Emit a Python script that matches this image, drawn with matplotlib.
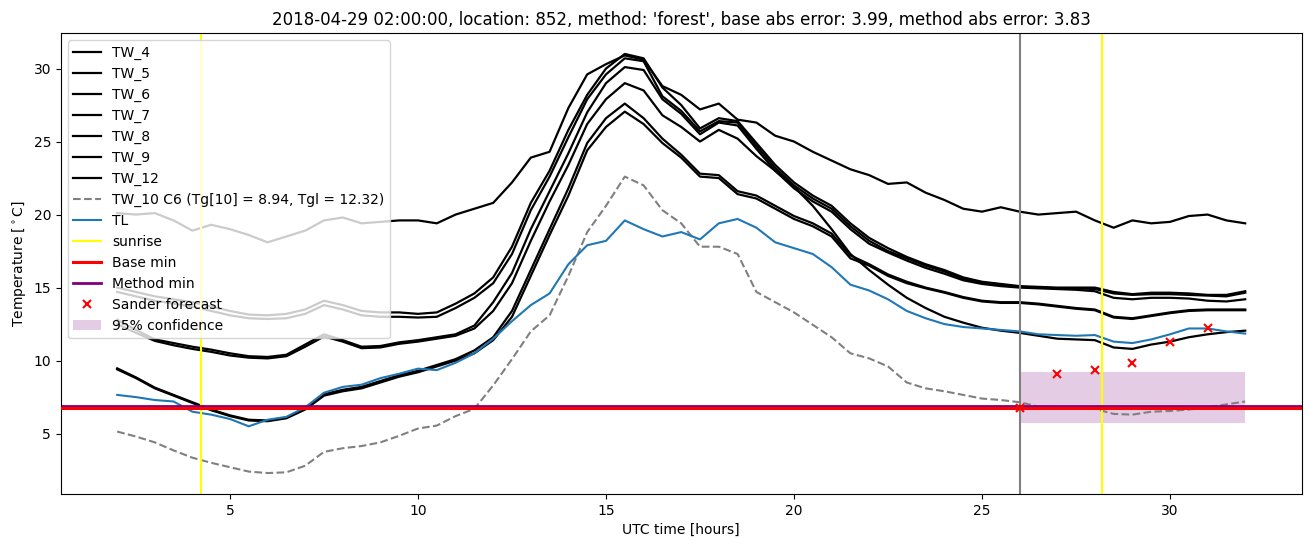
import numpy as np
import matplotlib
matplotlib.use("Agg")
import matplotlib.pyplot as plt

hours = np.arange(2.0, 32.01, 0.5)

tw_a = [20.1, 20.0, 20.1, 19.6, 18.9, 19.3, 19.0, 18.6, 18.1, 18.5,
        18.9, 19.6, 19.8, 19.4, 19.5, 19.6, 19.6, 19.4, 20.0, 20.4,
        20.8, 22.2, 23.9, 24.3, 27.3, 29.6, 30.3, 30.9, 30.6, 28.8,
        28.2, 27.2, 27.6, 26.5, 26.3, 25.4, 25.0, 24.3, 23.7, 23.1,
        22.7, 22.1, 22.2, 21.5, 21.0, 20.4, 20.2, 20.5, 20.2, 20.0,
        20.1, 20.2, 19.6, 19.1, 19.6, 19.4, 19.5, 19.9, 20.0, 19.6,
        19.4]
tw_p1 = [15.0, 14.7, 14.4, 14.2, 14.0, 13.7, 13.4, 13.15, 13.1, 13.2,
         13.5, 14.1, 13.8, 13.4, 13.3, 13.3, 13.2, 13.3, 13.9, 14.6,
         15.7, 17.8, 20.8, 23.0, 25.8, 28.2, 30.0, 31.0, 30.7, 28.7,
         27.5, 25.9, 26.6, 26.4, 24.9, 23.4, 22.2, 21.3, 20.6, 19.4,
         18.4, 17.7, 17.1, 16.6, 16.2, 15.7, 15.4, 15.25, 15.1, 15.05,
         15.0, 15.0, 15.0, 14.7, 14.55, 14.65, 14.65, 14.6, 14.5, 14.5,
         14.75]
tw_p2 = [14.7, 14.4, 14.1, 13.9, 13.7, 13.4, 13.1, 12.9, 12.85, 12.9,
         13.2, 13.8, 13.5, 13.1, 13.0, 13.0, 12.95, 13.0, 13.6, 14.3,
         15.3, 17.3, 20.3, 22.6, 25.3, 27.9, 29.6, 30.7, 30.5, 28.1,
         27.1, 25.7, 26.4, 26.3, 24.7, 23.2, 22.0, 21.1, 20.4, 19.2,
         18.2, 17.5, 17.0, 16.5, 16.1, 15.6, 15.35, 15.2, 15.05, 15.0,
         14.95, 14.95, 14.9, 14.6, 14.5, 14.55, 14.55, 14.5, 14.45, 14.4,
         14.65]
tw_q1 = [12.8, 12.1, 11.45, 11.2, 10.95, 10.75, 10.5, 10.3, 10.25, 10.4,
         11.1, 11.8, 11.4, 10.95, 11.0, 11.25, 11.4, 11.6, 11.8, 12.4,
         14.0, 16.0, 19.0, 21.6, 24.2, 27.0, 29.0, 30.1, 29.9, 27.9,
         26.9, 25.5, 26.3, 26.1, 24.5, 23.0, 21.8, 20.9, 20.2, 19.0,
         18.0, 17.4, 16.85, 16.35, 15.95, 15.5, 15.25, 15.1, 15.0, 14.95,
         14.9, 14.85, 14.75, 14.3, 14.2, 14.3, 14.3, 14.25, 14.1, 14.05,
         14.2]
tw_x = [12.5, 11.9, 11.35, 11.05, 10.8, 10.6, 10.35, 10.2, 10.15, 10.3,
        10.95, 11.65, 11.3, 10.85, 10.9, 11.15, 11.3, 11.5, 11.7, 12.2,
        13.4, 15.3, 18.2, 20.9, 23.4, 26.2, 27.9, 29.0, 28.5, 26.8,
        26.0, 25.0, 25.8, 25.2, 24.0, 23.0, 21.9, 20.6, 19.0, 17.3,
        16.2, 15.2, 14.3, 13.6, 13.0, 12.6, 12.25, 12.05, 11.9, 11.7,
        11.5, 11.45, 11.4, 10.9, 10.8, 11.1, 11.3, 11.6, 11.8, 11.95,
        12.05]
tw_d1 = [9.47, 8.85, 8.15, 7.65, 7.15, 6.65, 6.25, 5.95, 5.9, 6.1,
         6.7, 7.7, 8.0, 8.2, 8.6, 9.0, 9.3, 9.7, 10.1, 10.7,
         11.6, 13.4, 16.2, 19.0, 21.8, 24.9, 26.6, 27.6, 26.6, 25.2,
         24.1, 22.8, 22.7, 21.6, 21.3, 20.6, 19.9, 19.4, 18.7, 17.2,
         16.6, 15.9, 15.4, 15.0, 14.7, 14.35, 14.1, 14.0, 14.0, 13.9,
         13.75, 13.6, 13.5, 13.0, 12.9, 13.1, 13.3, 13.45, 13.5, 13.5,
         13.5]
tw_d2 = [9.4, 8.8, 8.1, 7.6, 7.1, 6.6, 6.2, 5.9, 5.85, 6.05,
         6.65, 7.6, 7.9, 8.1, 8.5, 8.9, 9.2, 9.6, 10.0, 10.5,
         11.4, 13.0, 15.8, 18.6, 21.3, 24.4, 26.0, 27.05, 26.2, 24.9,
         23.9, 22.6, 22.5, 21.4, 21.1, 20.4, 19.7, 19.2, 18.5, 17.0,
         16.5, 15.8, 15.3, 14.95, 14.65, 14.3, 14.05, 13.95, 13.95, 13.85,
         13.7, 13.55, 13.45, 12.95, 12.85, 13.05, 13.25, 13.4, 13.45, 13.45,
         13.45]
tw10 = [5.14, 4.8, 4.4, 3.85, 3.35, 3.0, 2.7, 2.4, 2.3, 2.35,
        2.8, 3.75, 4.0, 4.15, 4.4, 4.85, 5.35, 5.55, 6.2, 6.7,
        8.3, 10.1, 12.0, 13.1, 15.8, 18.8, 20.6, 22.6, 22.0, 20.3,
        19.4, 17.8, 17.8, 17.3, 14.7, 14.0, 13.3, 12.45, 11.6, 10.5,
        10.15, 9.6, 8.5, 8.1, 7.9, 7.65, 7.4, 7.3, 7.15, 6.85,
        6.8, 6.75, 6.7, 6.35, 6.3, 6.5, 6.55, 6.65, 6.8, 7.0,
        7.2]
tl = [7.65, 7.5, 7.3, 7.2, 6.5, 6.3, 6.0, 5.5, 5.95, 6.15,
      6.8, 7.8, 8.2, 8.35, 8.8, 9.1, 9.45, 9.35, 9.85, 10.5,
      11.5, 12.7, 13.8, 14.6, 16.6, 17.9, 18.2, 19.6, 19.0, 18.5,
      18.8, 18.3, 19.4, 19.7, 19.1, 18.1, 17.7, 17.3, 16.4, 15.2,
      14.8, 14.2, 13.4, 12.9, 12.5, 12.3, 12.2, 12.1, 12.0, 11.8,
      11.75, 11.7, 11.75, 11.3, 11.2, 11.45, 11.8, 12.2, 12.2, 12.0,
      11.85]

tw_labels = ['TW_4', 'TW_5', 'TW_6', 'TW_7', 'TW_8', 'TW_9', 'TW_12']
tw_series = [tw_p1, tw_q1, tw_d1, tw_p2, tw_x, tw_d2, tw_a]
tw10_label = 'TW_10 C6 (Tg[10] = 8.94, Tgl = 12.32)'

sunrise_hours = [4.22, 28.2]
forecast_start = 26.0
base_min = 6.73
method_min = 6.92
sander_hours = [26, 27, 28, 29, 30, 31]
sander_values = [6.73, 9.09, 9.36, 9.86, 11.28, 12.21]
conf_hours = [26.0, 32.0]
conf_low = 5.7
conf_high = 9.25

title = ("2018-04-29 02:00:00, location: 852, method: 'forest', "
         "base abs error: 3.99, method abs error: 3.83")

fig = plt.figure(figsize=(13.1, 5.47), dpi=100)
ax = fig.add_axes([0.0464, 0.0969, 0.9472, 0.8428])

for lab, vals in zip(tw_labels, tw_series):
    ax.plot(hours, vals, color='black', lw=1.6, label=lab)
ax.plot(hours, tw10, color='gray', ls='--', lw=1.5, label=tw10_label)
ax.plot(hours, tl, color='tab:blue', lw=1.5, label='TL')
for i, s in enumerate(sunrise_hours):
    ax.axvline(s, color='yellow', lw=1.5, label='sunrise' if i == 0 else None)
ax.axvline(forecast_start, color='gray', lw=1.5)
ax.axhline(base_min, color='red', lw=2.2, label='Base min', zorder=2.6)
ax.axhline(method_min, color='purple', lw=2, label='Method min', zorder=2.5)
ax.plot(sander_hours, sander_values, 'x', color='red', ms=6, mew=1.5,
        label='Sander forecast', zorder=2.7)
ax.fill_between(conf_hours, conf_low, conf_high, color='purple', alpha=0.2,
                lw=0, label='95% confidence')

ax.set_title(title, fontsize=12)
ax.set_xlabel('UTC time [hours]')
ax.set_ylabel(r'Temperature [$^\circ$C]')
ax.legend(loc='upper left')

fig.savefig('out.png', dpi=100)
